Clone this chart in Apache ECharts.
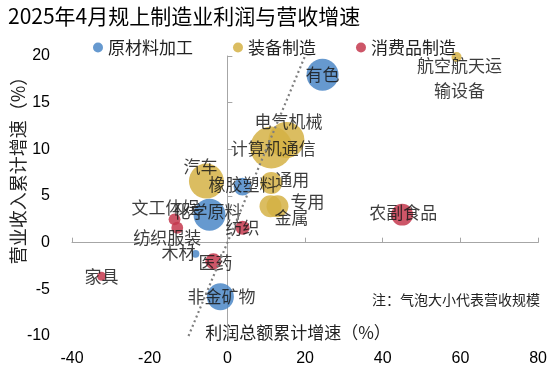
<!DOCTYPE html>
<html><head><meta charset="utf-8">
<script src="https://cdn.jsdelivr.net/npm/echarts@6/dist/echarts.min.js"></script>
<style>html,body{margin:0;padding:0;background:#fff}#c{width:550px;height:368px}</style>
</head><body><div id="c"></div>
<script>
const groupNames = ['原材料加工', '装备制造', '消费品制造'];
const categories = ['有色','航空航天运输设备','电气机械','计算机通信','汽车','橡胶塑料','化学原料','文工体娱','纺织服装','纺织','通用','专用','金属','农副食品','木材','医药','家具','非金矿物'];
const categoryGroup = [0,1,1,1,1,0,0,2,2,2,1,1,1,2,0,2,2,0];
const profitGrowth = [24.5,59.0,15.2,11.3,-5.4,3.9,-4.6,-13.6,-12.9,3.9,11.3,12.9,11.1,45.0,-8.2,-3.6,-32.4,-1.8];
const revenueGrowth = [18.0,19.9,11.0,10.2,6.6,6.0,3.0,2.5,1.6,1.6,6.4,3.9,3.9,3.0,-1.2,-2.0,-3.6,-5.8];
const revenueScale = [102,10,130,176,122,32,102,14,14,20,48,48,48,48,6,26,8,73];
const diagX = [-10, 20];
const diagY = [-10, 20];
const xTicks = [-40, 80, 20];
const yTicks = [-10, 20, 5];

const colors = ['#4B87C7', '#D5B145', '#C4384E'];
const labelOffsets = {
  '有色':[0,0],'航空航天运输设备':[3,20],'电气机械':[2,-18],'计算机通信':[2,1],'汽车':[-6,-15],
  '橡胶塑料':[0,-2],'化学原料':[-2,-3],'文工体娱':[-9,-12],'纺织服装':[-10,10],'纺织':[0,0],
  '通用':[21,-3],'专用':[30,-5],'金属':[21,11],'农副食品':[1,-2],'木材':[-17,-1],'医药':[2,1],
  '家具':[0,0],'非金矿物':[1,0]
};
const labelOffsetsFix = {'航空航天运输设备':[3,21]};
const labelBreaks = {'航空航天运输设备':'航空航天运\n输设备'};
const CJK = '"Noto Sans CJK SC", sans-serif';

const series = groupNames.map((g, gi) => ({
  name: g, type: 'scatter', xAxisIndex: 0, yAxisIndex: 0, z: 2, clip: true,
  itemStyle: {color: colors[gi], opacity: 0.85},
  symbolSize: v => Math.sqrt(v[2] * 10),
  label: {show: true, position: 'inside', color: '#1a1a1a', fontSize: 17, fontFamily: CJK, lineHeight: 25,
    formatter: p => labelBreaks[p.name] || p.name},
  data: categories.map((n, i) => ({n, i})).filter(o => categoryGroup[o.i] === gi).map(o => ({
    name: o.n, value: [profitGrowth[o.i], revenueGrowth[o.i], revenueScale[o.i]],
    label: {offset: labelOffsetsFix[o.n] || labelOffsets[o.n]}
  }))
}));
series.push({
  type: 'line', xAxisIndex: 0, yAxisIndex: 0, z: 5, silent: true, symbol: 'none',
  lineStyle: {color: '#7f7f7f', width: 2.2, type: [2, 3]},
  data: diagX.map((x, i) => [x, diagY[i]])
});

const chart = echarts.init(document.getElementById('c'));
chart.setOption({
  animation: false,
  title: {text: '2025年4月规上制造业利润与营收增速', left: 3, top: 1,
    textStyle: {fontSize: 21, fontWeight: 'normal', color: '#000', fontFamily: CJK}},
  legend: {data: groupNames, left: 88, top: 34, icon: 'circle', itemWidth: 10, itemHeight: 10, itemGap: 40,
    textStyle: {fontSize: 17, color: '#222', fontFamily: CJK}},
  grid: {left: 72, right: 11, top: 56, bottom: 32},
  xAxis: [
    {type: 'value', min: xTicks[0], max: xTicks[1], interval: xTicks[2], position: 'bottom',
     axisLine: {show: false, onZero: false}, axisTick: {show: false}, splitLine: {show: false},
     axisLabel: {fontSize: 16, color: '#000', margin: 15, fontFamily: 'Liberation Sans, Arial'}},
    {type: 'value', min: xTicks[0], max: xTicks[1], interval: xTicks[2], position: 'top',
     axisLine: {show: true, onZero: true, lineStyle: {color: '#a6a6a6'}},
     axisTick: {show: true, length: 5, lineStyle: {color: '#a6a6a6'}},
     axisLabel: {show: false}, splitLine: {show: false}}
  ],
  yAxis: [
    {type: 'value', min: yTicks[0], max: yTicks[1], interval: yTicks[2], position: 'left',
     axisLine: {show: false, onZero: false}, axisTick: {show: false}, splitLine: {show: false},
     axisLabel: {fontSize: 16, color: '#000', margin: 22, fontFamily: 'Liberation Sans, Arial'}},
    {type: 'value', min: yTicks[0], max: yTicks[1], interval: yTicks[2], position: 'right',
     axisLine: {show: true, onZero: true, lineStyle: {color: '#a6a6a6'}},
     axisTick: {show: true, length: 5, lineStyle: {color: '#a6a6a6'}},
     axisLabel: {show: false}, splitLine: {show: false}}
  ],
  graphic: [
    {type: 'text', x: 18, y: 166, rotation: Math.PI / 2,
     style: {text: '营业收入累计增速（%）', fontSize: 18, fontFamily: CJK, fill: '#222', align: 'center', verticalAlign: 'middle'}},
    {type: 'text', x: 298, y: 333,
     style: {text: '利润总额累计增速（%）', fontSize: 17, fontFamily: CJK, fill: '#222', align: 'center', verticalAlign: 'middle'}},
    {type: 'text', x: 540, y: 300,
     style: {text: '注：气泡大小代表营收规模', fontSize: 14, fontFamily: CJK, fill: '#222', align: 'right', verticalAlign: 'middle'}}
  ],
  series
});
</script></body></html>
